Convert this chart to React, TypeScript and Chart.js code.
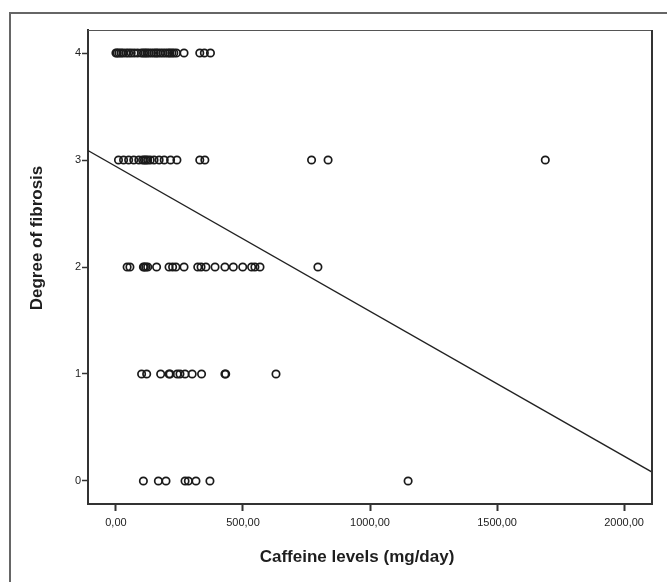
import React, { useEffect, useRef } from "react";
import { Chart, registerables } from "chart.js";

Chart.register(...registerables);

// Caffeine intake (mg/day) of patients, grouped by degree of fibrosis
const caffeineDeg0 = [108, 167, 197, 272, 285, 315, 370, 1150];
const caffeineDeg1 = [101, 121, 176, 209, 213, 241, 252, 272, 300, 337, 429, 432, 630];
const caffeineDeg2 = [44, 55, 108, 112, 118, 125, 160, 209, 223, 236, 268, 322, 335, 354, 390, 429, 462, 499, 534, 547, 567, 795];
const caffeineDeg3 = [10, 30, 50, 70, 90, 105, 112, 118, 125, 135, 150, 170, 190, 215, 240, 330, 350, 770, 835, 1690];
const caffeineDeg4 = [0, 5, 12, 20, 28, 40, 50, 60, 72, 85, 100, 108, 115, 122, 130, 140, 150, 158, 165, 175, 185, 195, 205, 212, 220, 228, 238, 268, 330, 348, 372];

const degreeGroups = [caffeineDeg0, caffeineDeg1, caffeineDeg2, caffeineDeg3, caffeineDeg4];

// Linear fit line (degree = intercept + slope * caffeine)
const fitIntercept = 2.94;
const fitSlope = -0.001354;

const xTickValues = [0, 500, 1000, 1500, 2000];
const yTickValues = [0, 1, 2, 3, 4];
const xAxisMin = -110;
const xAxisMax = 2110;
const yAxisMin = -0.215;
const yAxisMax = 4.215;

const xTitle = "Caffeine levels (mg/day)";
const yTitle = "Degree of fibrosis";

const FONT = "'Liberation Sans', Arial, Helvetica, sans-serif";

export default function App() {
  const ref = useRef<HTMLCanvasElement | null>(null);

  useEffect(() => {
    if (!ref.current) return;
    const points: { x: number; y: number }[] = [];
    degreeGroups.forEach((arr, deg) => arr.forEach((x) => points.push({ x, y: deg })));
    const fitLine = [xAxisMin, xAxisMax].map((x) => ({ x, y: fitIntercept + fitSlope * x }));

    const decor = {
      id: "decor",
      beforeDraw(chart: any) {
        const ctx = chart.ctx;
        ctx.save();
        ctx.fillStyle = "#fff";
        ctx.fillRect(0, 0, chart.width, chart.height);
        ctx.strokeStyle = "#666";
        ctx.lineWidth = 2;
        ctx.beginPath();
        ctx.moveTo(10, chart.height + 5);
        ctx.lineTo(10, 13);
        ctx.lineTo(chart.width + 5, 13);
        ctx.stroke();
        ctx.restore();
      },
      afterDraw(chart: any) {
        const ctx = chart.ctx;
        const a = chart.chartArea;
        ctx.save();
        ctx.strokeStyle = "#555";
        ctx.lineWidth = 1;
        ctx.beginPath();
        ctx.moveTo(a.left, a.top + 0.5);
        ctx.lineTo(a.right, a.top + 0.5);
        ctx.stroke();
        ctx.strokeStyle = "#333";
        ctx.lineWidth = 2;
        ctx.beginPath();
        ctx.moveTo(a.right, a.top);
        ctx.lineTo(a.right, a.bottom);
        ctx.stroke();

        ctx.fillStyle = "#1e1e1e";
        ctx.font = `bold 17px ${FONT}`;
        ctx.textAlign = "center";
        ctx.textBaseline = "middle";
        ctx.fillText(xTitle, 357, 557);
        ctx.translate(37, 238);
        ctx.rotate(-Math.PI / 2);
        ctx.fillText(yTitle, 0, 0);
        ctx.restore();
      },
    };

    const chart = new Chart(ref.current, {
      type: "scatter",
      data: {
        datasets: [
          {
            type: "scatter",
            data: points,
            pointRadius: 3.7,
            pointBorderWidth: 1.7,
            borderColor: "#1a1a1a",
            backgroundColor: "rgba(0,0,0,0)",
            pointStyle: "circle",
          } as any,
          {
            type: "line",
            data: fitLine,
            borderColor: "#222",
            borderWidth: 1.3,
            pointRadius: 0,
            fill: false,
            tension: 0,
          } as any,
        ],
      },
      options: {
        animation: false,
        responsive: false,
        devicePixelRatio: 1,
        layout: { padding: { left: 0, top: 30, right: 15, bottom: 0 } },
        plugins: { legend: { display: false }, tooltip: { enabled: false } },
        scales: {
          x: {
            type: "linear",
            min: xAxisMin,
            max: xAxisMax,
            afterBuildTicks: (s: any) => {
              s.ticks = xTickValues.map((v) => ({ value: v }));
            },
            afterFit: (s: any) => {
              s.height = 78;
            },
            grid: {
              drawOnChartArea: false,
              drawTicks: true,
              tickLength: 7,
              tickWidth: 2,
              tickColor: "#333",
            },
            border: { display: true, color: "#333", width: 2 },
            ticks: {
              padding: 5,
              color: "#222",
              font: { family: FONT, size: 11 },
              maxRotation: 0,
              autoSkip: false,
              callback: (v: any) => Number(v).toFixed(2).replace(".", ","),
            },
          },
          y: {
            type: "linear",
            min: yAxisMin,
            max: yAxisMax,
            afterBuildTicks: (s: any) => {
              s.ticks = yTickValues.map((v) => ({ value: v }));
            },
            afterFit: (s: any) => {
              s.width = 88;
            },
            grid: {
              drawOnChartArea: false,
              drawTicks: true,
              tickLength: 6,
              tickWidth: 1.5,
              tickColor: "#333",
            },
            border: { display: true, color: "#333", width: 2 },
            ticks: {
              padding: 1,
              color: "#222",
              font: { family: FONT, size: 11 },
              autoSkip: false,
              callback: (v: any) => String(v),
            },
          },
        },
      },
      plugins: [decor],
    });
    return () => chart.destroy();
  }, []);

  return (
    <div style={{ position: "fixed", left: 0, top: 0, width: 667, height: 582, background: "#fff" }}>
      <canvas ref={ref} width={667} height={582} style={{ display: "block" }} />
    </div>
  );
}
